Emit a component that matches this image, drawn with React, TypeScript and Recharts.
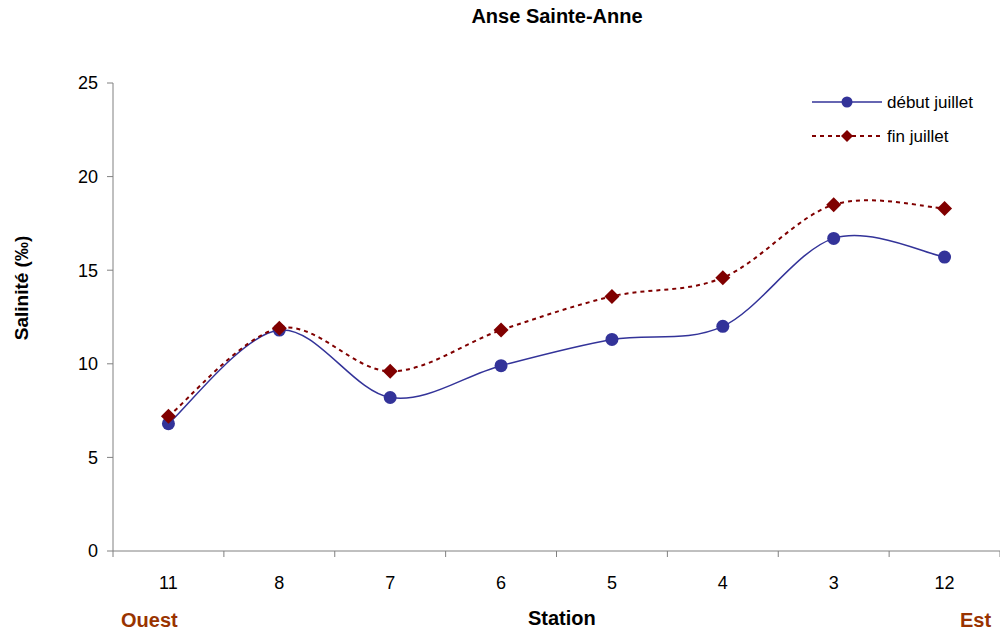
import React from "react";
import { LineChart, Line, XAxis, YAxis } from "recharts";

const stations = ["11", "8", "7", "6", "5", "4", "3", "12"];
const debutJuillet = [6.8, 11.8, 8.2, 9.9, 11.3, 12.0, 16.7, 15.7];
const finJuillet = [7.2, 11.9, 9.6, 11.8, 13.6, 14.6, 18.5, 18.3];
const yTicks = [0, 5, 10, 15, 20, 25];

const W = 1000;
const H = 637;
const M = { top: 83, right: 0, left: 73, bottom: 46 };
const Y_AXIS_W = 40;
const X_AXIS_H = 40;
const PLOT_W = W - M.left - Y_AXIS_W - M.right;
const BAND = PLOT_W / stations.length;
const AXIS_Y = H - M.bottom - X_AXIS_H;

const BLUE = "#333399";
const RED = "#800000";
const AXIS = "#808080";
const BROWN = "#993300";
const FONT = "'Liberation Sans', Arial, sans-serif";

const chartData = stations.map((s, i) => ({
  station: s,
  debut: debutJuillet[i],
  fin: finJuillet[i],
}));

// Excel-like smoothing (uniform Catmull-Rom through the points)
const excelSmooth = (context: any) => {
  let pts: number[][] = [];
  return {
    areaStart() {},
    areaEnd() {},
    lineStart() {
      pts = [];
    },
    point(x: number, y: number) {
      pts.push([+x, +y]);
    },
    lineEnd() {
      if (!pts.length) return;
      context.moveTo(pts[0][0], pts[0][1]);
      for (let i = 0; i < pts.length - 1; i++) {
        const p0 = pts[i - 1] || pts[i];
        const p1 = pts[i];
        const p2 = pts[i + 1];
        const p3 = pts[i + 2] || p2;
        context.bezierCurveTo(
          p1[0] + (p2[0] - p0[0]) / 6,
          p1[1] + (p2[1] - p0[1]) / 6,
          p2[0] - (p3[0] - p1[0]) / 6,
          p2[1] - (p3[1] - p1[1]) / 6,
          p2[0],
          p2[1]
        );
      }
    },
  };
};

const Diamond = ({ cx, cy, size = 7 }: any) => (
  <polygon
    points={`${cx},${cy - size} ${cx + size},${cy} ${cx},${cy + size} ${cx - size},${cy}`}
    fill={RED}
  />
);

const StationTick = (props: any) => {
  const { x, payload, index } = props;
  return (
    <g>
      <line x1={x - BAND / 2} x2={x - BAND / 2} y1={AXIS_Y} y2={AXIS_Y + 6} stroke={AXIS} />
      {index === stations.length - 1 && (
        <line x1={x + BAND / 2} x2={x + BAND / 2} y1={AXIS_Y} y2={AXIS_Y + 6} stroke={AXIS} />
      )}
      <text x={x} y={AXIS_Y + 38} textAnchor="middle" fontSize={18} fill="#000" fontFamily={FONT}>
        {payload.value}
      </text>
    </g>
  );
};

const LegendBox = () => (
  <svg width={180} height={60} style={{ display: "block" }}>
    <line x1={2} x2={72} y1={12} y2={12} stroke={BLUE} strokeWidth={1.5} />
    <circle cx={37} cy={12} r={5.5} fill={BLUE} />
    <text x={77} y={18} fontSize={17} fontFamily={FONT} fill="#000">début juillet</text>
    <line x1={2} x2={72} y1={46} y2={46} stroke={RED} strokeWidth={2} strokeDasharray="4 4" />
    <Diamond cx={37} cy={46} size={6} />
    <text x={77} y={52} fontSize={17} fontFamily={FONT} fill="#000">fin juillet</text>
  </svg>
);

export default function App() {
  return (
    <div style={{ position: "absolute", left: 0, top: 0, width: W, height: H, background: "#fff", fontFamily: FONT }}>
      <div
        style={{
          position: "absolute",
          top: 5,
          left: 0,
          width: 1114,
          textAlign: "center",
          fontWeight: "bold",
          fontSize: 20,
        }}
      >
        Anse Sainte-Anne
      </div>
      <div
        style={{
          position: "absolute",
          left: 22,
          top: 288,
          transform: "translate(-50%, -50%) rotate(-90deg)",
          fontWeight: "bold",
          fontSize: 19,
          whiteSpace: "nowrap",
        }}
      >
        Salinité (‰)
      </div>
      <LineChart width={W} height={H} data={chartData} margin={M}>
        <XAxis
          dataKey="station"
          height={X_AXIS_H}
          stroke={AXIS}
          tickLine={false}
          tick={<StationTick />}
          interval={0}
          padding={{ left: BAND / 2, right: BAND / 2 }}
        />
        <YAxis
          width={Y_AXIS_W}
          domain={[0, 25]}
          ticks={yTicks}
          stroke={AXIS}
          tickSize={6}
          tickMargin={9}
          tick={{ fill: "#000", fontSize: 18, fontFamily: FONT }}
        />
        <Line
          dataKey="debut"
          name="début juillet"
          type={excelSmooth as any}
          stroke={BLUE}
          strokeWidth={1.5}
          dot={(p: any) => <circle key={p.index} cx={p.cx} cy={p.cy} r={6.5} fill={BLUE} />}
          activeDot={false}
          isAnimationActive={false}
        />
        <Line
          dataKey="fin"
          name="fin juillet"
          type={excelSmooth as any}
          stroke={RED}
          strokeWidth={2}
          strokeDasharray="4 4"
          dot={(p: any) => <Diamond key={p.index} cx={p.cx} cy={p.cy} size={7.5} />}
          activeDot={false}
          isAnimationActive={false}
        />
      </LineChart>
      <div style={{ position: "absolute", left: 810, top: 90 }}>
        <LegendBox />
      </div>
      <div style={{ position: "absolute", left: 121, top: 609, color: BROWN, fontWeight: "bold", fontSize: 20 }}>
        Ouest
      </div>
      <div style={{ position: "absolute", left: 528, top: 607, fontWeight: "bold", fontSize: 20 }}>Station</div>
      <div style={{ position: "absolute", left: 960, top: 609, color: BROWN, fontWeight: "bold", fontSize: 20 }}>
        Est
      </div>
    </div>
  );
}
